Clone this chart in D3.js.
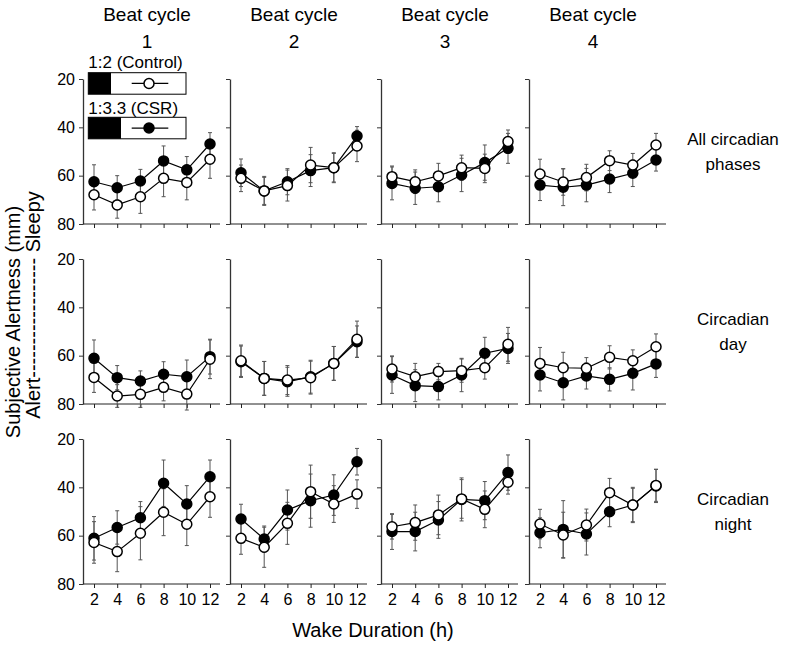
<!DOCTYPE html>
<html><head><meta charset="utf-8">
<script src="https://cdn.jsdelivr.net/npm/d3@7"></script>
<style>
html,body{margin:0;padding:0;background:#fff;}
text{font-family:"Liberation Sans",Arial,Helvetica,sans-serif;fill:#000;}
</style></head>
<body>
<svg id="chart" width="799" height="659"></svg>
<script>
// ---------------- data ----------------
const wakeHours = [2, 4, 6, 8, 10, 12];
const beatCycles = ["1", "2", "3", "4"];
const phaseLabels = [["All circadian", "phases"], ["Circadian", "day"], ["Circadian", "night"]];
const yTicks = [20, 40, 60, 80];
const legendLabels = ["1:2 (Control)", "1:3.3 (CSR)"];

// means, per beat cycle (rows of 6 = wake hours)
const controlAll = [
  [67.9, 72.1, 68.7, 61.1, 62.8, 53.2],
  [61.1, 66.3, 64.1, 55.6, 56.7, 47.7],
  [60.4, 62.5, 60.1, 56.7, 57.0, 45.9],
  [59.3, 62.6, 60.8, 53.8, 55.6, 47.3]];
const csrAll = [
  [62.5, 65.0, 62.2, 53.9, 57.6, 46.9],
  [58.8, 66.3, 62.5, 57.9, 56.7, 43.6],
  [63.2, 65.2, 64.6, 59.7, 54.6, 48.7],
  [63.9, 64.8, 63.9, 61.4, 59.0, 53.5]];
const controlDay = [
  [69.0, 76.7, 76.0, 73.1, 75.9, 61.5],
  [62.1, 69.4, 70.1, 69.1, 63.2, 53.2],
  [65.5, 68.7, 66.6, 66.2, 65.0, 55.3],
  [63.2, 65.0, 65.2, 60.7, 62.1, 56.3]];
const csrDay = [
  [61.1, 69.1, 70.5, 67.7, 68.7, 60.4],
  [62.5, 69.4, 70.8, 68.7, 63.2, 54.2],
  [68.0, 72.4, 72.8, 68.0, 59.0, 57.0],
  [68.0, 71.2, 68.4, 69.8, 67.3, 63.4]];
const controlNight = [
  [62.8, 66.6, 59.0, 50.3, 55.3, 43.9],
  [61.1, 64.8, 54.9, 41.8, 46.9, 42.8],
  [56.3, 54.6, 51.4, 44.8, 49.1, 37.9],
  [55.2, 59.7, 55.6, 42.2, 47.3, 39.2]];
const csrNight = [
  [61.1, 56.6, 52.6, 38.3, 46.9, 35.6],
  [53.1, 61.4, 49.4, 45.5, 43.2, 29.4],
  [58.3, 58.3, 53.5, 45.0, 45.5, 33.9],
  [58.8, 57.4, 59.3, 50.1, 47.3, 39.4]];

// standard errors
const controlAllSE = [
  [6.3, 5.5, 6.9, 7.6, 7.2, 7.9],
  [5.5, 5.6, 6.4, 7.3, 6.2, 6.5],
  [4.4, 4.9, 5.2, 5.2, 5.9, 4.8],
  [6.1, 5.5, 5.5, 4.1, 4.8, 4.8]];
const csrAllSE = [
  [7.0, 5.0, 4.8, 6.2, 5.5, 4.7],
  [5.7, 6.0, 5.4, 6.6, 5.9, 3.9],
  [6.8, 6.7, 6.2, 6.9, 7.3, 6.2],
  [6.4, 7.6, 6.9, 5.6, 5.5, 4.6]];
const controlDaySE = [
  [6.2, 4.7, 5.4, 5.6, 6.6, 8.0],
  [6.5, 7.0, 6.0, 6.8, 7.0, 7.5],
  [5.4, 5.5, 3.4, 4.8, 4.7, 7.0],
  [6.6, 6.4, 4.4, 4.8, 4.5, 5.3]];
const csrDaySE = [
  [7.6, 5.0, 4.2, 5.2, 6.9, 7.2],
  [6.5, 7.0, 6.0, 6.8, 7.0, 6.5],
  [7.6, 6.6, 5.5, 6.9, 6.6, 6.2],
  [6.6, 7.1, 5.4, 4.8, 6.9, 5.6]];
const controlNightSE = [
  [8.6, 8.3, 11.0, 9.7, 8.8, 8.5],
  [6.6, 8.3, 8.7, 11.0, 7.6, 5.9],
  [5.1, 7.3, 8.2, 8.0, 7.6, 4.9],
  [6.1, 9.4, 6.6, 5.9, 6.9, 6.6]];
const csrNightSE = [
  [9.0, 6.9, 6.7, 9.6, 7.6, 6.9],
  [6.1, 5.4, 8.3, 11.0, 8.4, 5.5],
  [7.4, 8.0, 7.6, 8.9, 7.9, 7.3],
  [6.2, 11.9, 8.7, 6.2, 7.3, 6.9]];

const rowsData = [
  {control: controlAll, controlSE: controlAllSE, csr: csrAll, csrSE: csrAllSE},
  {control: controlDay, controlSE: controlDaySE, csr: csrDay, csrSE: csrDaySE},
  {control: controlNight, controlSE: controlNightSE, csr: csrNight, csrSE: csrNightSE}];

// ---------------- layout ----------------
const svg = d3.select("#chart");
const colX = [83, 230, 381, 529];
const rowY = [79, 259, 439];
const panelW = 137, panelH = 145;
const FONT = '"Liberation Sans",Arial,Helvetica,sans-serif';

const x = d3.scaleLinear().domain([2, 12]).range([11, 127]);
const y = d3.scaleLinear().domain([20, 80]).range([0, panelH]);

// column headers
beatCycles.forEach((b, i) => {
  const cx = colX[i] + 64;
  svg.append("text").attr("x", cx).attr("y", 21).attr("text-anchor", "middle")
    .style("font-size", "19px").text("Beat cycle");
  svg.append("text").attr("x", cx).attr("y", 48).attr("text-anchor", "middle")
    .style("font-size", "19px").text(b);
});

// right-hand labels
phaseLabels.forEach((lines, r) => {
  const cy = rowY[r] + panelH / 2 - 7;
  lines.forEach((t, k) => {
    svg.append("text").attr("x", 733).attr("y", cy + k * 25).attr("text-anchor", "middle")
      .style("font-size", "17px").text(t);
  });
});

// panels
rowsData.forEach((rd, r) => {
  beatCycles.forEach((b, c) => {
    const g = svg.append("g").attr("transform", `translate(${colX[c]},${rowY[r]})`);

    // y axis
    const ya = d3.axisLeft(y).tickValues(yTicks).tickSize(4).tickSizeOuter(0)
      .tickFormat(c === 0 ? d3.format("d") : () => "");
    const yg = g.append("g").call(ya);
    yg.select(".domain").attr("stroke", "#333").attr("stroke-width", 1.3);
    yg.selectAll(".tick line").attr("stroke", "#333");
    yg.selectAll("text").style("font-size", "16px").style("font-family", FONT).attr("fill", "#000").attr("dx", "-1");

    // x axis
    const xa = d3.axisBottom(x).tickValues(wakeHours).tickSize(4).tickSizeOuter(0)
      .tickFormat(r === 2 ? d3.format("d") : () => "");
    const xg = g.append("g").attr("transform", `translate(0,${panelH})`).call(xa);
    xg.select(".domain").attr("d", `M0,0H${panelW}`).attr("stroke", "#222");
    xg.selectAll(".tick line").attr("stroke", "#222");
    xg.selectAll("text").style("font-size", "16px").style("font-family", FONT).attr("fill", "#000").attr("dy", "0.9em");

    const series = [
      {vals: rd.csr[c], se: rd.csrSE[c], fill: "#000"},
      {vals: rd.control[c], se: rd.controlSE[c], fill: "#fff"}];

    // error bars
    series.forEach(s => {
      const eb = g.append("g").attr("stroke", "#555").attr("stroke-width", 1);
      wakeHours.forEach((h, i) => {
        const cx = x(h), y1 = y(s.vals[i] - s.se[i]), y2 = y(s.vals[i] + s.se[i]);
        eb.append("line").attr("x1", cx).attr("x2", cx).attr("y1", y1).attr("y2", y2);
        eb.append("line").attr("x1", cx - 2).attr("x2", cx + 2).attr("y1", y1).attr("y2", y1);
        eb.append("line").attr("x1", cx - 2).attr("x2", cx + 2).attr("y1", y2).attr("y2", y2);
      });
    });
    // lines
    const line = d3.line().x((d, i) => x(wakeHours[i])).y(d => y(d));
    series.forEach(s => {
      g.append("path").attr("d", line(s.vals)).attr("fill", "none")
        .attr("stroke", "#000").attr("stroke-width", 1.2);
    });
    // markers
    series.forEach(s => {
      g.selectAll(null).data(s.vals).enter().append("circle")
        .attr("cx", (d, i) => x(wakeHours[i])).attr("cy", d => y(d)).attr("r", 5)
        .attr("fill", s.fill).attr("stroke", "#000").attr("stroke-width", 1.5);
    });
  });
});

// legend (inside first panel)
const legend = [
  {label: legendLabels[0], top: 72.7, black: 22.7, fill: "#fff", ty: 68},
  {label: legendLabels[1], top: 117.3, black: 32.7, fill: "#000", ty: 114}];
legend.forEach(L => {
  const lx = 88.3, lw = 97.7, lh = 21.5;
  svg.append("text").attr("x", lx).attr("y", L.ty).style("font-size", "17px").text(L.label);
  svg.append("rect").attr("x", lx).attr("y", L.top).attr("width", lw).attr("height", lh)
    .attr("fill", "#fff").attr("stroke", "#000").attr("stroke-width", 1);
  svg.append("rect").attr("x", lx).attr("y", L.top).attr("width", L.black).attr("height", lh)
    .attr("fill", "#000");
  const cy = L.top + lh / 2;
  svg.append("line").attr("x1", 131.7).attr("x2", 168.3).attr("y1", cy).attr("y2", cy)
    .attr("stroke", "#000").attr("stroke-width", 1.2);
  svg.append("circle").attr("cx", 149).attr("cy", cy).attr("r", 5)
    .attr("fill", L.fill).attr("stroke", "#000").attr("stroke-width", 1.5);
});

// axis titles
svg.append("text").attr("x", 373).attr("y", 637).attr("text-anchor", "middle")
  .style("font-size", "20px").text("Wake Duration (h)");
svg.append("text").attr("transform", "translate(20,322) rotate(-90)").attr("text-anchor", "middle")
  .style("font-size", "20px").text("Subjective Alertness (mm)");
svg.append("text").attr("transform", "translate(40,305) rotate(-90)").attr("text-anchor", "middle")
  .style("font-size", "20px").text("Alert------------------ Sleepy");
</script>
</body></html>
